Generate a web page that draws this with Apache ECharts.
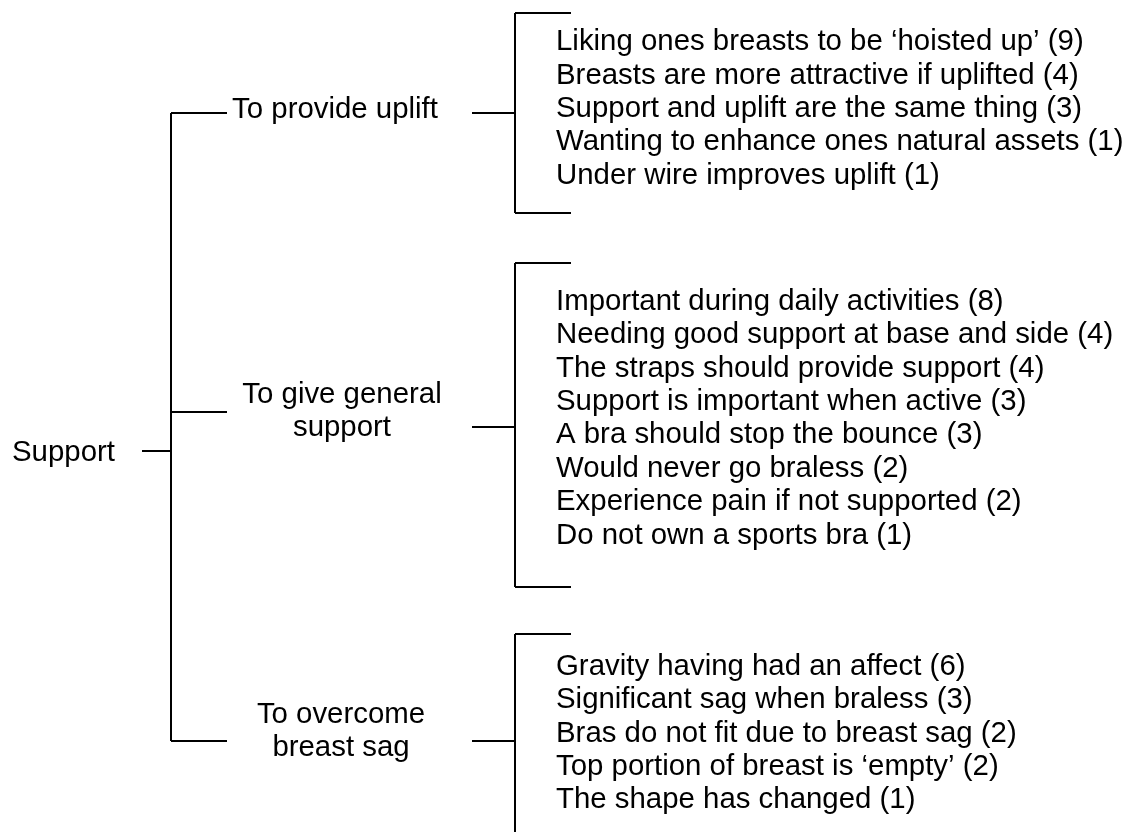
<!DOCTYPE html>
<html>
<head>
<meta charset="utf-8">
<script src="https://cdn.jsdelivr.net/npm/echarts@6/dist/echarts.min.js"></script>
<style>
html,body{margin:0;padding:0;background:#ffffff;}
#chart{width:1125px;height:832px;}
</style>
</head>
<body>
<div id="chart"></div>
<script>
// ---------------- DATA ----------------
const rootLabel = 'Support';
const themeLabels = ['To provide uplift', 'To give general\nsupport', 'To overcome\nbreast sag'];

const upliftItems = [
  'Liking ones breasts to be \u2018hoisted up\u2019',
  'Breasts are more attractive if uplifted',
  'Support and uplift are the same thing',
  'Wanting to enhance ones natural assets',
  'Under wire improves uplift'
];
const upliftCounts = [9, 4, 3, 1, 1];

const generalItems = [
  'Important during daily activities',
  'Needing good support at base and side',
  'The straps should provide support',
  'Support is important when active',
  'A bra should stop the bounce',
  'Would never go braless',
  'Experience pain if not supported',
  'Do not own a sports bra'
];
const generalCounts = [8, 4, 4, 3, 3, 2, 2, 1];

const sagItems = [
  'Gravity having had an affect',
  'Significant sag when braless',
  'Bras do not fit due to breast sag',
  'Top portion of breast is \u2018empty\u2019',
  'The shape has changed'
];
const sagCounts = [6, 3, 2, 2, 1];

// ---------------- LAYOUT (diagram units on hidden axes) ----------------
const FONT_FAMILY = '"Liberation Sans", Arial, sans-serif';
const FONT_SIZE = 29.4;
const LINE_H = 33.4;
const L = {
  rootX: 12, rootY: 453, rootStubX: [142, 171], rootStubY: 451,
  trunkX: 171, branchEndX: 227,
  stubX: [472, 515],
  bracketX: 515, tickEndX: 571,
  itemX: 556,
  groups: [
    { branchY: 113, labelCX: 335, labelY: 110,   stubY: 113, top: 13,  bottom: 213, firstItem: 42 },
    { branchY: 412, labelCX: 342, labelY: 411.5, stubY: 427, top: 263, bottom: 587, firstItem: 301.7 },
    { branchY: 741, labelCX: 341, labelY: 731.5, stubY: 741, top: 634, bottom: 848, firstItem: 666.7 }
  ]
};

const groupItems = [upliftItems, generalItems, sagItems];
const groupCounts = [upliftCounts, generalCounts, sagCounts];

// rows: [kind, group, index]  kind 0=root, 1=theme, 2=item
const rows = [[0, 0, 0]];
themeLabels.forEach((t, g) => rows.push([1, g, 0]));
groupItems.forEach((items, g) => items.forEach((_, i) => rows.push([2, g, i])));

const chart = echarts.init(document.getElementById('chart'), null, { renderer: 'canvas' });

function renderItem(params, api) {
  const kind = api.value(0), g = api.value(1), i = api.value(2);
  const P = (x, y) => { const c = api.coord([x, y]); return [Math.round(c[0]), Math.round(c[1])]; };
  const ln = (x1, y1, x2, y2) => {
    const a = P(x1, y1), b = P(x2, y2);
    return { type: 'line', shape: { x1: a[0], y1: a[1], x2: b[0], y2: b[1] },
             style: { stroke: '#000', lineWidth: 2 } };
  };
  const tx = (x, y, text, align) => {
    const c = api.coord([x, y]);
    return { type: 'text', x: c[0], y: c[1],
             style: { text: text, fill: '#000', fontSize: FONT_SIZE, fontFamily: FONT_FAMILY,
                      align: align, verticalAlign: 'middle', lineHeight: LINE_H } };
  };
  const children = [];
  if (kind === 0) {
    children.push(tx(L.rootX, L.rootY, rootLabel, 'left'));
    children.push(ln(L.rootStubX[0], L.rootStubY, L.rootStubX[1], L.rootStubY));
    children.push(ln(L.trunkX, L.groups[0].branchY, L.trunkX, L.groups[L.groups.length - 1].branchY));
  } else if (kind === 1) {
    const G = L.groups[g];
    children.push(ln(L.trunkX, G.branchY, L.branchEndX, G.branchY));
    children.push(tx(G.labelCX, G.labelY, themeLabels[g], 'center'));
    children.push(ln(L.stubX[0], G.stubY, L.stubX[1], G.stubY));
    children.push(ln(L.bracketX, G.top, L.bracketX, G.bottom));
    children.push(ln(L.bracketX, G.top, L.tickEndX, G.top));
    children.push(ln(L.bracketX, G.bottom, L.tickEndX, G.bottom));
  } else {
    const G = L.groups[g];
    const label = groupItems[g][i] + ' (' + groupCounts[g][i] + ')';
    children.push(tx(L.itemX, G.firstItem + i * LINE_H, label, 'left'));
  }
  return { type: 'group', children: children };
}

chart.setOption({
  backgroundColor: '#ffffff',
  animation: false,
  grid: { left: 0, right: 0, top: 0, bottom: 0 },
  xAxis: { type: 'value', min: 0, max: 1125, show: false },
  yAxis: { type: 'value', min: 0, max: 832, inverse: true, show: false },
  series: [{
    type: 'custom',
    renderItem: renderItem,
    data: rows,
    encode: { x: -1, y: -1 },
    clip: true,
    silent: true
  }]
});
</script>
</body>
</html>
